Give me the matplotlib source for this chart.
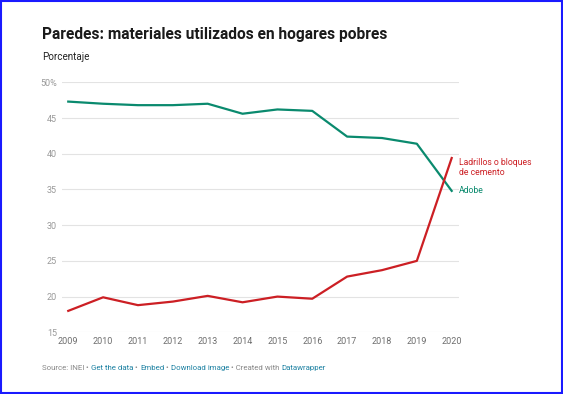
import matplotlib.pyplot as plt
from matplotlib.patches import Rectangle

years = [2009, 2010, 2011, 2012, 2013, 2014, 2015, 2016, 2017, 2018, 2019, 2020]
adobe = [47.3, 47.0, 46.8, 46.8, 47.0, 45.6, 46.2, 46.0, 42.4, 42.2, 41.4, 34.8]
ladrillos = [18.0, 19.9, 18.8, 19.3, 20.1, 19.2, 20.0, 19.7, 22.8, 23.7, 25.0, 39.4]
y_ticks = [15, 20, 25, 30, 35, 40, 45, 50]
y_labels = ["15", "20", "25", "30", "35", "40", "45", "50%"]

GREEN = "#0a8a6e"
RED = "#cc1f24"
TICK_GRAY = "#999999"

plt.rcParams["font.family"] = ["Roboto", "DejaVu Sans"]

fig = plt.figure(figsize=(5.63, 3.94), dpi=100)
ax = fig.add_axes([0.1107, 0.1566, 0.7046, 0.6345])

ax.plot(years, adobe, color=GREEN, lw=1.6, solid_joinstyle="round")
ax.plot(years, ladrillos, color=RED, lw=1.6, solid_joinstyle="round")

ax.set_xlim(2008.83, 2020.21)
ax.set_ylim(15, 50)
ax.set_xticks(years)
ax.set_xticklabels([str(y) for y in years])
ax.set_yticks(y_ticks)
ax.set_yticklabels(y_labels)
ax.tick_params(axis="both", length=0, labelsize=6.5, labelcolor=TICK_GRAY)
ax.tick_params(axis="y", pad=4)
ax.tick_params(axis="x", pad=3.5)
for lbl in ax.get_xticklabels():
    lbl.set_color("#6e6e6e")

ax.grid(axis="y", color="#e3e3e3", lw=0.8)
ax.set_axisbelow(True)
for s in ax.spines.values():
    s.set_visible(False)

# line end labels
ax.annotate("Ladrillos o bloques\nde cemento", xy=(years[-1], ladrillos[-1]),
            xytext=(5.3, 0), textcoords="offset points", color=RED,
            fontsize=6.2, va="top", ha="left", linespacing=1.2,
            annotation_clip=False)
ax.annotate("Adobe", xy=(years[-1], adobe[-1]), xytext=(5.3, 0),
            textcoords="offset points", color=GREEN, fontsize=6.2,
            va="center", ha="left", annotation_clip=False)

fig.text(42 / 563, 1 - 35 / 394, "Paredes: materiales utilizados en hogares pobres",
         fontsize=11.2, fontweight="bold", color="#1a1a1a", va="center", ha="left")
fig.text(42 / 563, 1 - 57 / 394, "Porcentaje", fontsize=7.1, color="#222222",
         va="center", ha="left")

# footer
parts = [("Source: INEI", "#888888"), (" • ", "#888888"), ("Get the data", "#1d81a2"),
         (" • ", "#888888"), ("Embed", "#1d81a2"), (" • ", "#888888"),
         ("Download image", "#1d81a2"), (" • Created with ", "#888888"),
         ("Datawrapper", "#1d81a2")]
fig.canvas.draw()
renderer = fig.canvas.get_renderer()
x = 42 / 563
for txt, col in parts:
    t = fig.text(x, 1 - 368 / 394, txt, fontsize=5.7, color=col, va="center", ha="left")
    bb = t.get_window_extent(renderer=renderer)
    x += bb.width / fig.bbox.width

fig.patches.append(Rectangle((0.001, 0.002), 0.997, 0.996, transform=fig.transFigure,
                             fill=False, edgecolor="#1a1aff", lw=1.5))

fig.savefig("out.png", dpi=100)
